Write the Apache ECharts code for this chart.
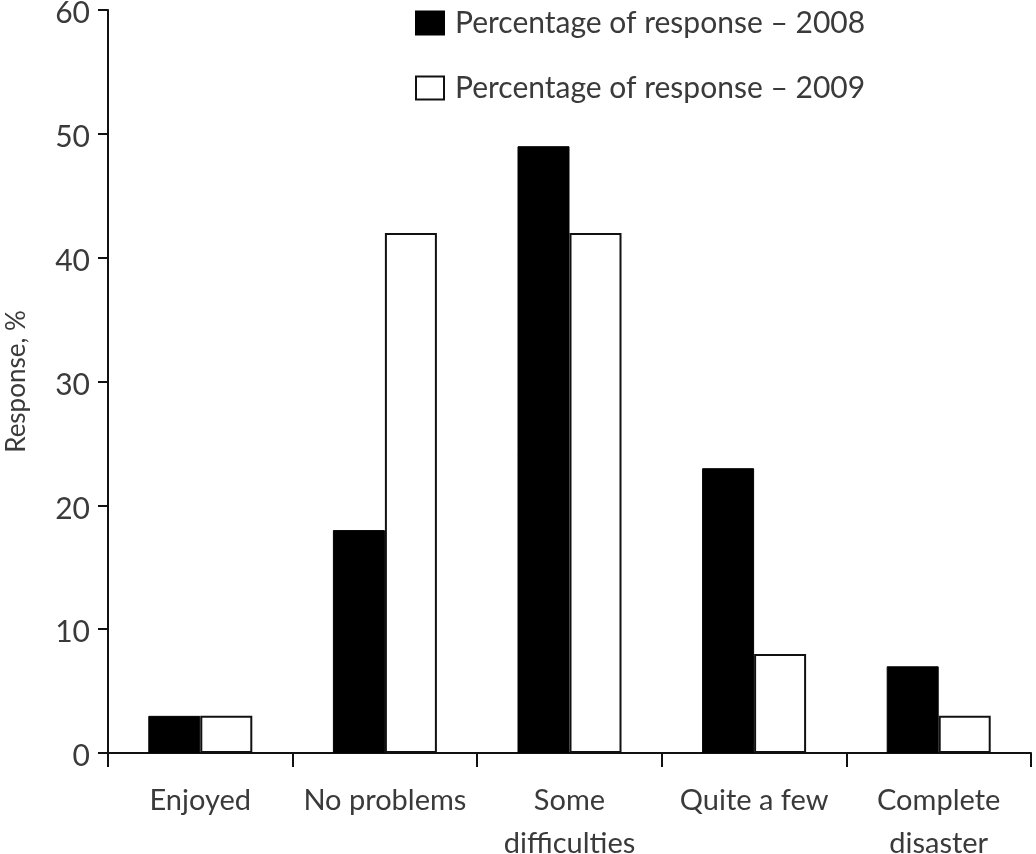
<!DOCTYPE html>
<html>
<head>
<meta charset="utf-8">
<script src="https://cdn.jsdelivr.net/npm/echarts@6/dist/echarts.min.js"></script>
<style>
html,body{margin:0;padding:0;background:#fff;}
#main{width:1036px;height:854px;}
</style>
</head>
<body>
<div id="main"></div>
<script>
const categories = ['Enjoyed', 'No problems', 'Some\ndifficulties', 'Quite a few', 'Complete\ndisaster'];
const series2008 = [3, 18, 49, 23, 7];
const series2009 = [3, 42, 42, 8, 3];
const seriesNames = ['Percentage of response \u2013 2008', 'Percentage of response \u2013 2009'];
const yTicks = { min: 0, max: 60, interval: 10 };

const FONT = 'Lato';
const TXT = '#3a3a3a';

const chart = echarts.init(document.getElementById('main'));
chart.setOption({
  backgroundColor: '#fff',
  animation: false,
  textStyle: { fontFamily: FONT },
  grid: { left: 108, right: 5, top: 10, bottom: 101, containLabel: false, outerBoundsMode: 'none' },
  legend: {
    orient: 'vertical',
    left: 410,
    top: 3,
    itemWidth: 28,
    itemHeight: 23,
    itemGap: 35,
    icon: 'rect',
    selectedMode: false,
    textStyle: { fontFamily: FONT, fontSize: 30, color: TXT, padding: [0, 0, 0, 6] },
    data: seriesNames
  },
  xAxis: {
    type: 'category',
    data: categories,
    axisLine: { lineStyle: { color: '#111', width: 2 } },
    axisTick: { show: true, length: 14, lineStyle: { color: '#111', width: 2 }, alignWithLabel: false },
    axisLabel: { fontFamily: FONT, fontSize: 29, color: TXT, margin: 26, lineHeight: 43, interval: 0 }
  },
  yAxis: {
    type: 'value',
    min: yTicks.min,
    max: yTicks.max,
    interval: yTicks.interval,
    name: 'Response, %',
    nameLocation: 'middle',
    nameGap: 78,
    nameTextStyle: { fontFamily: FONT, fontSize: 26, color: TXT },
    splitLine: { show: false },
    axisLine: { show: true, lineStyle: { color: '#111', width: 2 } },
    axisTick: { show: true, length: 10, lineStyle: { color: '#111', width: 2 } },
    axisLabel: {
      fontFamily: FONT, fontSize: 30, color: TXT, margin: 18,
      formatter: '{v|{value}}',
      rich: { v: { fontFamily: FONT, fontSize: 30, color: TXT, padding: [7, 0, 0, 0] } }
    }
  },
  series: [
    {
      name: seriesNames[0],
      type: 'bar',
      data: series2008,
      barWidth: 52,
      barGap: '0%',
      itemStyle: { color: '#000', borderColor: '#000', borderWidth: 1 }
    },
    {
      name: seriesNames[1],
      type: 'bar',
      data: series2009,
      barWidth: 52,
      barGap: '0%',
      itemStyle: { color: '#fff', borderColor: '#111', borderWidth: 2 }
    }
  ]
});
</script>
</body>
</html>
